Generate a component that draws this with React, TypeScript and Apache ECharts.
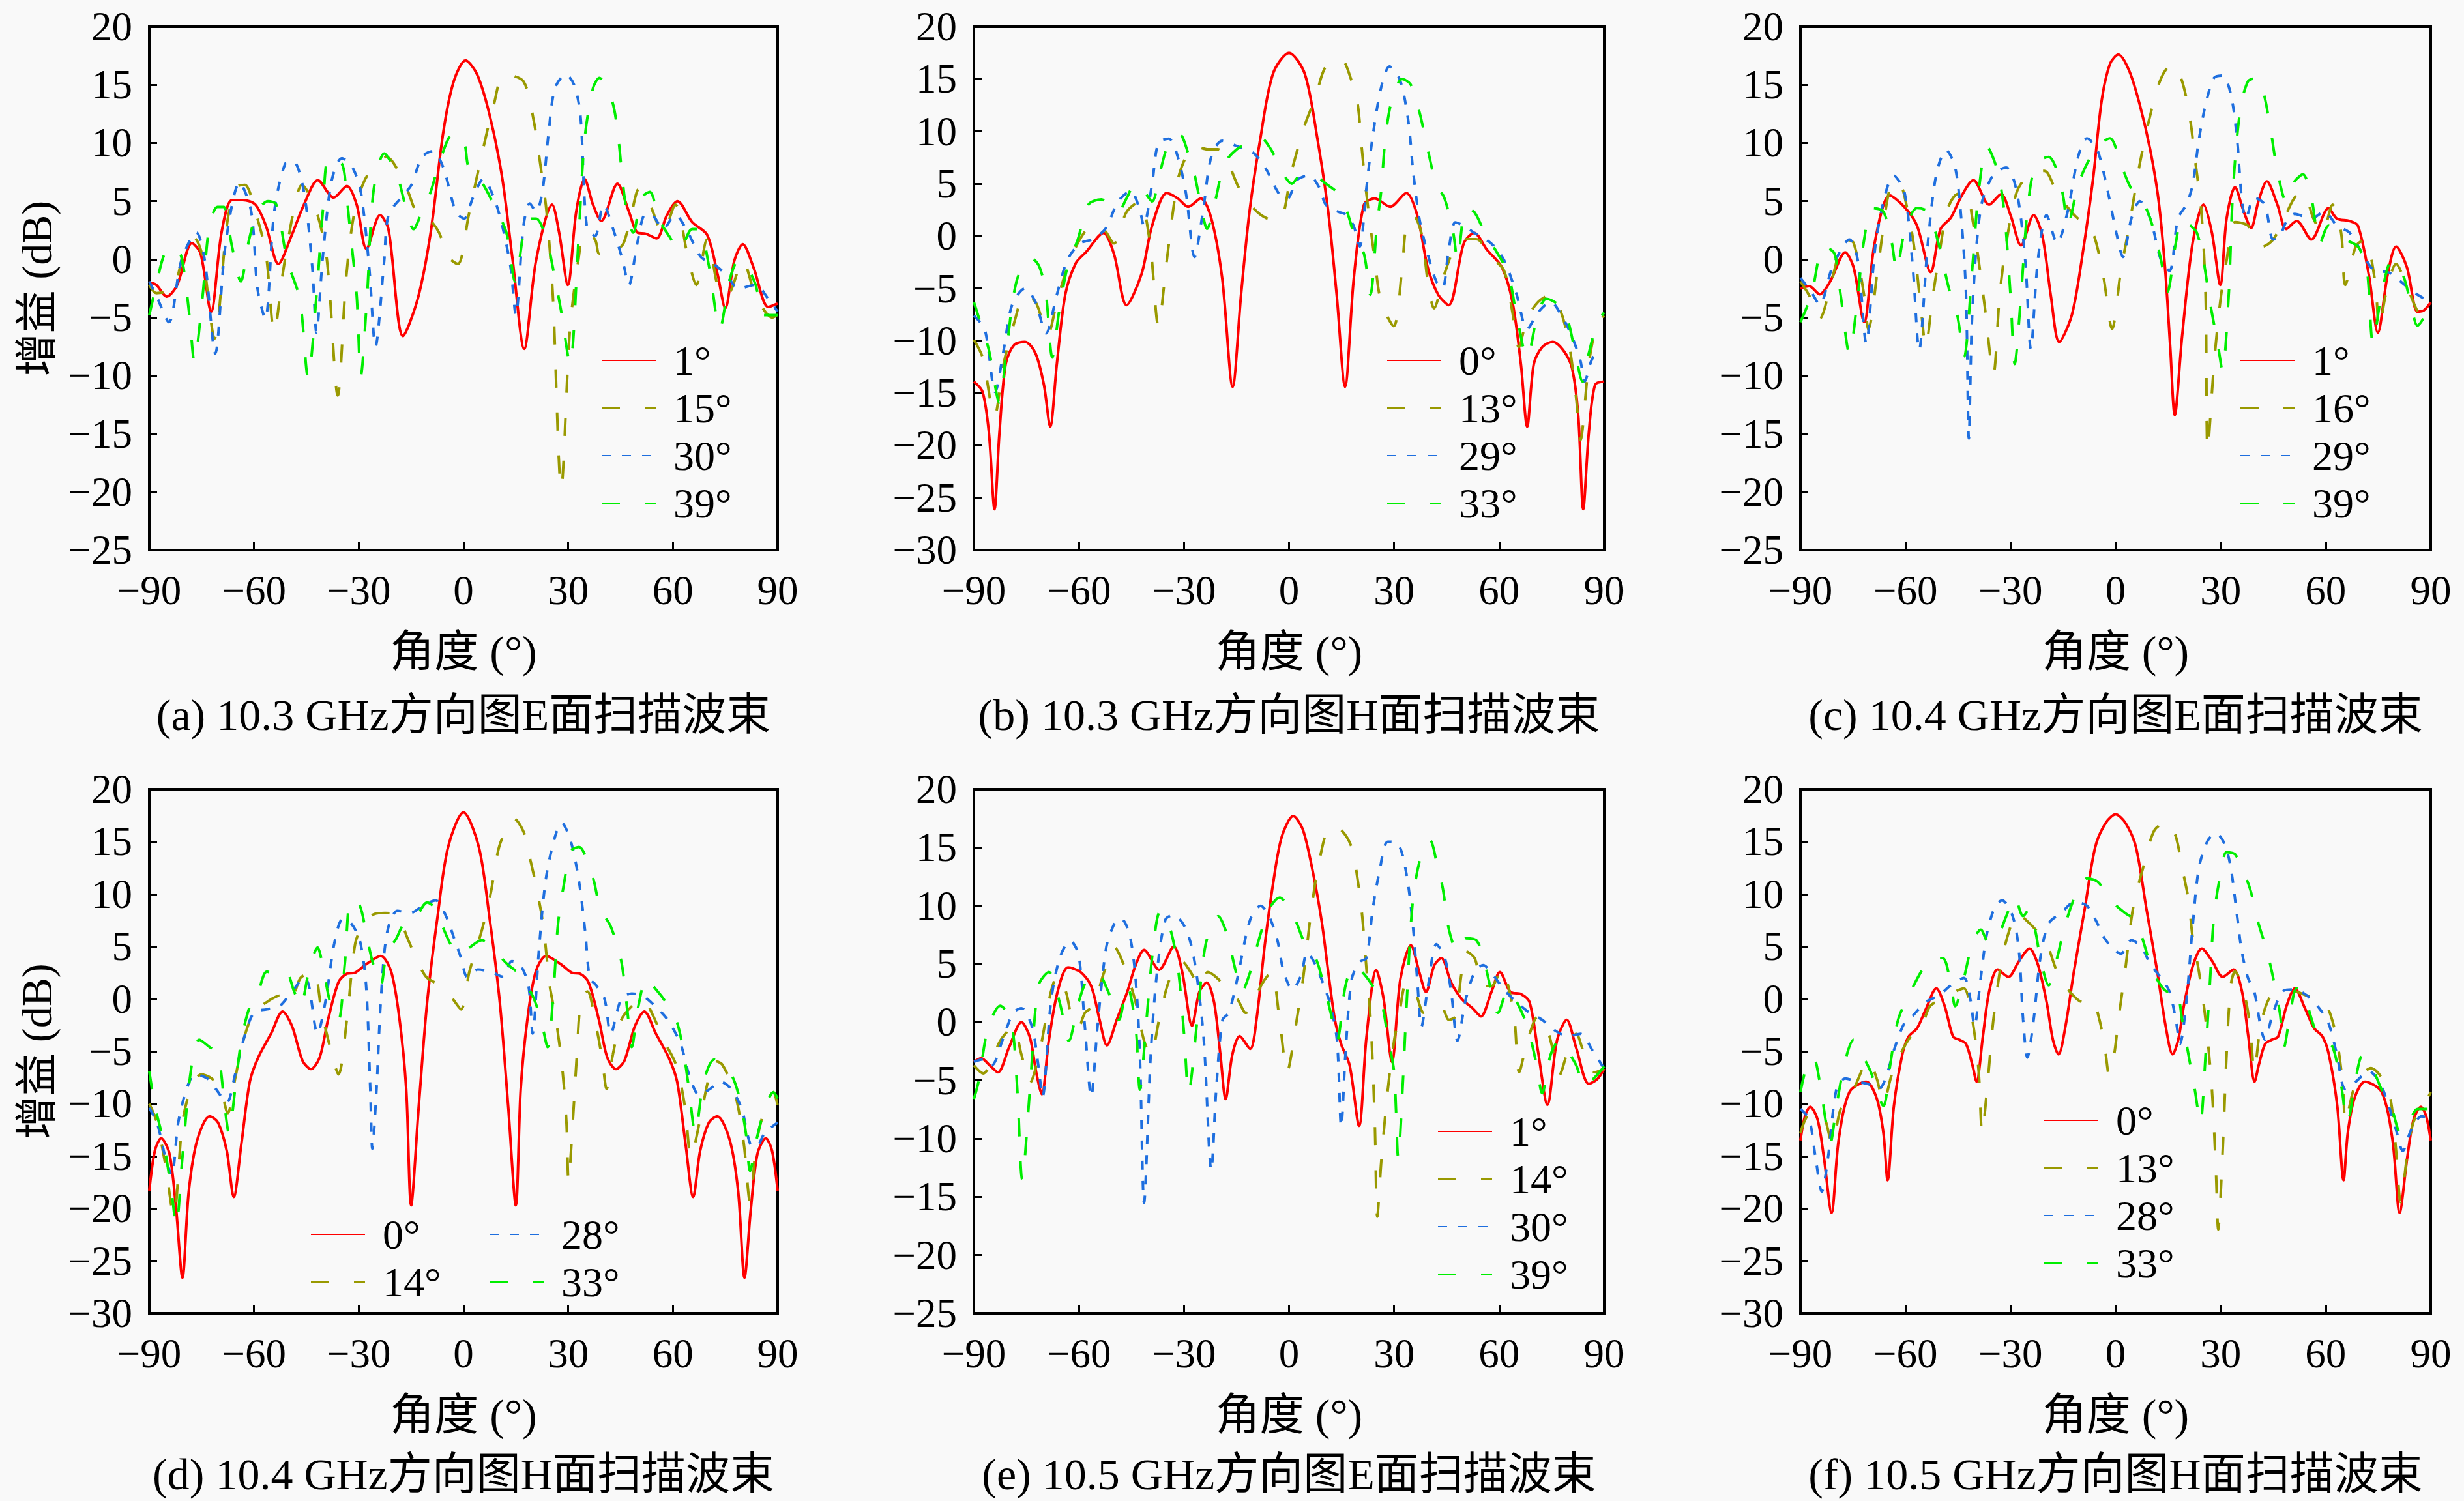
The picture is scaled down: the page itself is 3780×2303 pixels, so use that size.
import { useEffect, useRef } from "react";
import * as echarts from "echarts";

type Pt = [number, number];

// ---- (a) 10.3 GHz E-plane ----
const aNames = ["1°", "15°", "30°", "39°"];
const aRed: Pt[] = [[-90,-2.0],[-88,-2.2],[-85,-3.2],[-82,-2.2],[-77.8,1.4],[-75.3,0.5],[-72.3,-4.5],[-69.3,2.3],[-66.3,5.1],[-63.2,5.1],[-59.6,4.7],[-56.6,2.9],[-53,-0.4],[-49.3,2.0],[-45.7,4.7],[-41.7,6.8],[-37.2,5.3],[-33.4,6.3],[-30.6,4.7],[-27.8,0.9],[-23.9,3.8],[-21.5,2.6],[-17.3,-6.6],[-13.1,-3.4],[-9.4,2.3],[-5.8,10.9],[-2.8,15.3],[0.6,17.1],[3.9,15.9],[7.5,12.4],[11.1,7.0],[14.1,-0.1],[17.4,-7.7],[20.8,-0.1],[25.4,4.7],[27.4,2.3],[29.9,-2.2],[32.3,4.1],[34.7,6.9],[37.1,4.7],[39.5,3.3],[44.1,6.5],[47.4,4.1],[49.8,2.3],[52.2,2.2],[55.3,1.8],[58.3,3.8],[61.3,5.0],[65.5,3.2],[69.8,2.1],[72.8,-1.3],[75,-4.2],[77.6,-0.1],[80,1.3],[83.1,-0.7],[87.3,-4.1],[90,-3.8]];
const aOlive: Pt[] = [[-90,-2.2],[-88,-2.9],[-83.2,-2.5],[-79.6,1.1],[-77.1,1.8],[-74.7,0.2],[-71.3,-6.8],[-67.5,3.5],[-64.5,6.3],[-62.6,6.4],[-59.6,4.1],[-56.6,0.5],[-54.2,-6.3],[-51.8,-1.3],[-48.7,4.1],[-46.3,6.4],[-42.1,4.1],[-39.1,-0.1],[-36,-11.7],[-33.6,-1.6],[-31.2,4.1],[-27.6,7.2],[-22.1,8.8],[-16.7,6.4],[-13.1,3.8],[-10,3.5],[-7,2.3],[-4.4,0.2],[-1.6,-0.4],[1.5,3.8],[5.1,8.8],[8.7,13.3],[11.7,15.9],[17.2,15.3],[20.2,11.8],[22,8.2],[23.8,4.1],[25.6,-3.1],[28,-19.7],[30.5,-6],[32.9,-0.1],[34.7,2.3],[37.7,1.7],[38.9,0.5],[42.6,1.4],[45,1.1],[47.4,2.9],[50.4,6.1],[53.4,4.7],[57.1,2.3],[60.7,4.7],[64.3,0.2],[66.7,-2.2],[69.8,1.7],[74,-3.1],[76.4,-2.8],[80,-0.1],[83.7,-3.1],[88.5,-5],[90,-4.8]];
const aBlue: Pt[] = [[-90,-1.9],[-88,-3.1],[-84.4,-5.4],[-80.8,-0.1],[-76.5,2.3],[-74.1,-0.1],[-71.1,-8.1],[-68.1,1.4],[-64.1,6.6],[-60.8,4.1],[-59,-2.5],[-56.8,-5.1],[-54.2,4.1],[-51.1,8.2],[-48.7,8.4],[-45.7,5.8],[-43.3,-0.7],[-42.1,-6.3],[-40.3,0.2],[-37.8,6.7],[-34.8,8.7],[-31.8,7.9],[-29.4,5.8],[-27,-0.7],[-25.2,-7.5],[-22.7,-0.1],[-21.5,3.8],[-17.9,5.3],[-14.9,6.4],[-11.9,8.8],[-8.8,9.3],[-5.8,7.9],[-2.2,4.1],[0.2,3.5],[2.7,5.3],[5.7,6.9],[8.7,5.3],[11.1,2.9],[13.5,-0.7],[15,-4.8],[17.2,2.9],[19,4.8],[20.8,4.1],[22.6,5.8],[24.4,10.9],[26.2,14.7],[29.3,15.9],[31.7,15],[33.5,12.4],[35.3,2.9],[37.7,2],[40.1,4.7],[43.2,2.3],[45.6,-0.1],[47.4,-2.2],[49.8,1.4],[52.2,3.9],[54.7,3.6],[57.1,2.6],[60.7,3.8],[64.3,2.3],[68,0.2],[71.6,-0.4],[75.2,-1.3],[78.8,-2.5],[83.7,-2.2],[87.3,-3.4],[90,-4.5]];
const aGreen: Pt[] = [[-90,-4.8],[-88,-2.2],[-85.6,0.5],[-83.2,1.1],[-80.8,0.2],[-78.4,-5.1],[-77.1,-8.8],[-74.7,-3.1],[-72.9,2.6],[-70.5,4.5],[-68.7,4.5],[-66.3,1.1],[-63.8,-1.9],[-61.4,1.7],[-59,4.1],[-56,5],[-53.6,4.7],[-50.5,-0.1],[-46.9,-3.4],[-44.5,-10.2],[-42.1,-3.1],[-40.3,4.1],[-38.5,8.8],[-34.8,8.2],[-33.6,5.8],[-32.4,2.3],[-30.6,-3.1],[-29.4,-10],[-27.6,-3.1],[-25.8,5.8],[-22.7,9.1],[-19.1,7.3],[-16.7,4.7],[-14.3,2.6],[-11.9,4.1],[-9.4,5.8],[-6.4,8.8],[-2.8,10.9],[0.2,10],[1.5,7.9],[5.1,6.7],[8.7,4.7],[12.3,2.3],[14.8,-1.9],[17.2,2.3],[18.4,3.5],[20.8,3.5],[23.8,1.7],[25.6,-0.7],[28,-4.5],[30.5,-9],[32.9,1.4],[34.7,10.3],[37.1,14.7],[38.9,15.6],[42.6,13.6],[44.4,10.3],[45.6,6.7],[46.8,4.1],[48.6,2.3],[51,5.3],[53.4,5.8],[55.9,3.5],[58.9,2],[61.9,0.8],[65.5,2.6],[67.4,2.6],[70.4,-0.7],[73.4,-6],[76.4,-1.6],[78.8,-0.1],[81.3,-0.7],[83.7,-2.2],[86.1,-4.8],[90,-4.8]];

// ---- (b) 10.3 GHz H-plane ----
const bNames = ["0°", "13°", "29°", "33°"];
const bRed: Pt[] = [[-90,-13.9],[-87.5,-14.9],[-85.7,-18.8],[-84.1,-26.1],[-82.7,-18.8],[-80.9,-12.2],[-78.5,-10.4],[-75.4,-10.1],[-72.4,-11.2],[-70,-14.2],[-68.2,-18.2],[-66.3,-12.2],[-63.9,-5.6],[-60.9,-2.6],[-57.9,-1.5],[-53,0.3],[-50,-1.7],[-46.4,-6.6],[-42.1,-3.6],[-39.1,1],[-34.9,4.1],[-31.8,3.6],[-28.8,2.8],[-25.2,3.6],[-22.2,1.7],[-19.1,-4],[-16.1,-14.4],[-13.7,-5.6],[-11.3,2.3],[-8.2,9.3],[-4.6,15.5],[0,17.5],[4.5,15.5],[8.1,9.3],[11.2,2.3],[13.6,-5.6],[16,-14.4],[18.5,-4],[21.4,3],[24.5,3.6],[28.9,2.8],[33.5,4.1],[36.6,2],[39.6,-3],[42.6,-5.6],[45.6,-6.6],[49.9,-0.7],[52.9,0.3],[56.5,-1.3],[60.8,-3],[63.8,-6.3],[66.2,-12.2],[68,-18.2],[69.9,-12.2],[72.3,-10.6],[75.3,-10.1],[78.3,-10.9],[80.8,-12.6],[82.6,-17.2],[84,-26.1],[85.6,-18.8],[87.4,-14.2],[90,-13.9]];
const bOlive: Pt[] = [[-90,-9.9],[-87.5,-11.6],[-84.1,-17.2],[-81.5,-12.2],[-78.5,-8.3],[-75.4,-5.6],[-72.4,-6.3],[-70.6,-7.9],[-68.8,-9.3],[-66.3,-6.3],[-63.3,-3],[-59.7,-0.3],[-56.1,1],[-53,0.7],[-50,-0.7],[-46.4,2.3],[-42.7,3.3],[-39.7,-0.7],[-37.3,-8.6],[-34.9,-2.3],[-31.8,5.3],[-29.4,7.6],[-27,8.6],[-23.4,8.3],[-20.3,8.3],[-17.3,6.9],[-14.3,4.6],[-10,2.6],[-6.4,1.7],[-2.8,1.5],[0.8,6.3],[4.5,10.6],[7.5,13.2],[10.5,16.2],[14.8,16.9],[17.8,14.9],[19.6,12.6],[20.8,8.3],[22,4.3],[24.5,-2.3],[26.3,-6.3],[29.9,-8.6],[32.3,-3],[33.5,1],[35.4,2],[37.8,0.3],[39.6,-4.3],[41.4,-6.9],[44.4,-3.6],[47.5,-1],[50.5,-0.3],[53.5,-0.3],[57.7,-2],[61.4,-3.3],[63.8,-7.3],[65.6,-10.6],[68,-7.9],[71.1,-6.3],[74.7,-5.6],[77.7,-7.3],[80.1,-10.6],[82,-15.5],[83.2,-19.5],[85.6,-12.2],[88,-8.3],[90,-7.6]];
const bBlue: Pt[] = [[-90,-7.6],[-86.9,-8.9],[-83.9,-14.9],[-81.5,-10.9],[-79.1,-6.6],[-75.4,-5],[-72.4,-6.3],[-69.4,-9.3],[-66.3,-5.6],[-63.3,-2.3],[-59.7,-0.7],[-56.1,-0.3],[-52.4,0.7],[-48.8,3.3],[-45.2,4.3],[-42.7,2.6],[-41.5,1],[-39.1,5],[-37.3,8.9],[-34.3,9.3],[-31.8,7.6],[-29.4,4],[-27,-2],[-24.6,2.3],[-22.2,7.6],[-19.1,9.1],[-14.9,8.6],[-10,7.9],[-6.4,6.3],[-2.8,4],[-0.4,3.6],[2.1,5.3],[5.7,5.8],[8.7,4.6],[10.5,3],[14.2,2.3],[16,2.1],[18.4,1],[20.2,-1],[22,4.3],[23.8,9.3],[26.3,14.2],[28.7,16.2],[31.7,14.9],[34.1,10.9],[35.4,6.3],[37.2,1.7],[39.6,-1.7],[42,-4.3],[43.8,-5],[45.6,-1.3],[47.5,1.3],[49.9,1],[52.9,0.3],[57.7,-0.7],[61.4,-2.3],[65,-5.6],[68,-8.9],[71.1,-7.3],[74.7,-6.3],[78.3,-7.9],[80.8,-9.6],[83.2,-11.9],[84.4,-13.9],[86.8,-11.6],[90,-11.2]];
const bGreen: Pt[] = [[-90,-6.3],[-88.1,-8.3],[-85.7,-10.9],[-82.7,-15.9],[-80.9,-11.6],[-77.8,-4.3],[-73.6,-2.1],[-71.2,-3],[-69.4,-5.6],[-67.6,-11.6],[-65.7,-7.3],[-63.3,-3],[-60.3,-0.3],[-57.3,3],[-53.6,3.5],[-51.2,3],[-48.8,2.3],[-46.4,3.6],[-43.9,5],[-41.5,4.3],[-39.1,3.3],[-36.7,6.3],[-34.3,8.9],[-31.2,9.7],[-28.8,7.9],[-27,5.9],[-25.2,3],[-23.4,0.7],[-20.9,3.6],[-18.5,6.9],[-14.9,8.3],[-11.3,8.9],[-8.2,9.4],[-5.2,8.3],[-2.2,6.3],[0.8,5],[3.3,5.8],[6.9,5.8],[10.5,5],[14.2,4],[16.6,2.3],[19,-0.3],[21.4,-1.7],[23.2,-5.6],[25.1,1],[26.3,4.3],[27.5,9.3],[29.3,12.9],[32.3,15],[34.7,14.5],[37.2,11.9],[39.6,8.3],[42,5],[44.4,3.6],[46.9,0.3],[48.1,-2.3],[50.5,2.6],[52.9,2.3],[55.9,0.3],[59.6,-1.7],[62.6,-3.6],[65,-7.6],[68,-11.6],[71.1,-7.3],[73.5,-6],[77.1,-6.6],[79.5,-7.9],[82,-11.6],[83.8,-13.9],[85.6,-11.2],[88,-8.3],[90,-7.3]];

// ---- (c) 10.4 GHz E-plane ----
const cNames = ["1°", "16°", "29°", "39°"];
const cRed: Pt[] = [[-90,-2.5],[-87.5,-2.3],[-84.5,-3],[-81.5,-1.9],[-77.2,0.6],[-74.8,-0.7],[-71.8,-5.4],[-68.8,1.4],[-64.5,5.5],[-60.3,4.5],[-56.7,2.9],[-52.8,-1.1],[-50,2.6],[-47,3.6],[-43.9,5.5],[-40.6,6.8],[-36.1,4.7],[-32.7,5.6],[-30,3.8],[-27,1.2],[-23.4,3.8],[-20.9,2],[-18.5,-3.1],[-16.1,-7.1],[-12.5,-4.8],[-9.4,0.5],[-6.4,7],[-4,13.6],[-1.6,16.8],[0.8,17.6],[3.9,16.2],[6.9,13.3],[9.9,9.4],[12.3,5],[14.2,-1],[15.6,-7.5],[16.9,-13.4],[19,-6.6],[22,1.4],[25.1,4.7],[27.5,2.3],[29.9,-2.2],[31.7,3.5],[34.1,6.2],[36.6,4.1],[38.7,2.7],[40.8,5],[43.2,6.7],[46.2,4.7],[48.7,2.6],[51.7,3.3],[55.9,1.7],[60.8,4.4],[63.2,3.5],[66.8,3.3],[69.2,2.9],[72.3,-1.3],[74.9,-6.3],[77.7,-1.3],[80.1,1.1],[83.2,-0.7],[86.2,-4.5],[88,-4.4],[90,-3.7]];
const cOlive: Pt[] = [[-90,-1.9],[-87.5,-3.1],[-84.5,-5.1],[-80.9,-1.6],[-77.2,1.7],[-74.8,1.4],[-71.8,-3.1],[-70.6,-6],[-67.6,-0.1],[-64.5,6.1],[-62.1,6.7],[-59.1,3.8],[-57.3,0.5],[-55.4,-4.8],[-54.2,-7.5],[-52.4,-3.6],[-50.6,-0.1],[-48.2,4.1],[-45.8,5.5],[-42.7,5.8],[-40.9,3.5],[-39.1,-0.1],[-37.3,-4.2],[-34.9,-9.9],[-33.1,-3.1],[-31.2,1.4],[-28.2,5.8],[-24.6,7.3],[-20.3,7.6],[-17.3,6.1],[-14.3,4.7],[-10.7,3.5],[-8.2,3.2],[-5.8,1.7],[-3.4,-1.6],[-1,-6],[1.5,-1],[3.9,2.9],[6.9,8.2],[9.9,12.4],[12.9,15.5],[16,16.8],[19,15.3],[21.4,11.8],[22.6,8.8],[24.5,4.1],[25.7,-3.1],[26.3,-16.4],[28.1,-9],[29.9,-3.6],[31.7,-0.1],[34.1,3.2],[37.8,2.9],[39.6,1.7],[42,1.1],[45,1.7],[48.1,3.5],[51.1,5.3],[53.5,5.8],[56.5,3.5],[59,2.3],[62,4.7],[64.4,2.3],[65.6,-2.2],[68.6,1.1],[71.1,1.7],[74.1,-1.9],[75.3,-6],[77.1,-3.1],[80.1,-0.4],[83.8,-2.8],[87.4,-4.8],[90,-4.2]];
const cBlue: Pt[] = [[-90,-1.6],[-86.9,-2.8],[-84.5,-3.9],[-80.9,-0.7],[-76,1.7],[-73.6,-0.1],[-71.2,-7.2],[-68.2,2],[-63.3,7.2],[-60.3,5.8],[-57.9,-0.7],[-56.1,-7.8],[-53.6,1.4],[-51.2,7.3],[-48.4,9.4],[-45.8,7.9],[-43.9,2.9],[-42.7,-3.1],[-41.9,-15.4],[-40.9,-4.5],[-38.5,4.4],[-34.9,7.3],[-31.2,7.9],[-28.2,5.8],[-25.8,-0.1],[-24.2,-7.7],[-22.2,-0.1],[-19.7,3.8],[-16.7,1.4],[-13.7,4.1],[-10.7,8.8],[-8.2,10.4],[-5.2,9.4],[-2.2,5.8],[0.2,2.3],[2.1,0.2],[4.5,3.5],[6.9,5],[9.9,3.5],[13,-0.1],[15.4,-1],[17.8,3.5],[20.2,4.7],[22,6.4],[23.8,10.3],[25.7,13.3],[28.1,15.6],[30.5,15.8],[32.9,14.2],[34.7,10.3],[36,5.3],[37.2,3.5],[39.6,5.3],[42.6,4.7],[45,1.7],[46.9,2],[48.7,3.2],[51.1,3.9],[55.9,3.5],[59.6,4.1],[63.2,2.9],[66.8,2.3],[70.5,0.5],[74.1,-1],[77.7,-1.1],[81.4,-1.9],[85,-2.8],[90,-3.7]];
const cGreen: Pt[] = [[-90,-5.4],[-86.9,-3.1],[-83.3,1.1],[-80.3,0.5],[-78.5,-3.1],[-76,-8.1],[-73.6,-3.1],[-71.8,1.7],[-69.4,4.4],[-66.3,4.1],[-63.9,1.4],[-62.5,-1],[-60.3,2.3],[-56.7,4.4],[-53.6,4.1],[-50.6,1.4],[-47.6,-2.5],[-45.2,-4.8],[-43.3,-8.4],[-40.9,-0.7],[-39.1,5.8],[-36.7,9.7],[-33.7,7.6],[-31.8,4.1],[-30,-3.1],[-28.8,-9],[-27,-3.1],[-25.2,4.1],[-22.8,8.2],[-19.1,8.8],[-16.7,7.6],[-14.9,5.3],[-13.7,2.9],[-10.7,6.4],[-8.2,8.2],[-5.2,9.7],[-1.6,10.4],[1.5,8.2],[3.9,6.4],[6.3,5.3],[8.7,4.4],[11.1,2.3],[13,-0.1],[14.8,-2.8],[17.2,1.4],[19,3.5],[21.4,2.9],[23.2,2.3],[25.1,-0.1],[26.9,-3.6],[29.3,-7.5],[30.5,-9.6],[32.3,-3.1],[33.5,5.8],[35.4,12.4],[37.8,15.3],[40.8,15.6],[42.6,13.9],[44.4,10.9],[46.2,7.6],[48.7,5],[51.1,6.7],[53.5,7.3],[55.9,5.3],[58.4,1.4],[60.8,2.9],[63.2,2.3],[65.6,1.7],[69.2,1.1],[71.7,-0.7],[73.5,-7.2],[75.9,-3.1],[78.9,-0.1],[82,-1.3],[84.4,-3.9],[86.2,-5.7],[90,-3.9]];

// ---- (d) 10.4 GHz H-plane ----
const dNames = ["0°", "14°", "28°", "33°"];
const dRed: Pt[] = [[-90,-18.3],[-88.4,-14.5],[-86.6,-13.3],[-84.2,-14.8],[-82.3,-20.1],[-80.5,-26.6],[-78.7,-18.4],[-76.3,-13.5],[-72.7,-11.2],[-70.3,-11.8],[-67.8,-14.5],[-65.8,-18.9],[-63.6,-13.8],[-61.2,-7.9],[-58.8,-5.6],[-55.1,-3.3],[-51.8,-1.2],[-49.1,-2.6],[-46.1,-5.9],[-43.7,-6.7],[-41.2,-5.6],[-38.8,-2],[-35.8,1.6],[-33.4,2.4],[-31,2.5],[-27.9,3.3],[-23.7,4.1],[-20.7,2.6],[-18.3,-2],[-16.4,-8.6],[-15,-19.7],[-12.8,-10.2],[-10.4,-0.3],[-7.4,7.9],[-4.4,14.5],[0,17.8],[4.4,14.5],[7.4,7.9],[10.4,-0.3],[12.8,-10.2],[15,-19.7],[16.4,-8.6],[18.3,-2],[20.7,2.6],[23.7,4.1],[27.9,3.3],[31,2.5],[33.4,2.4],[35.8,1.6],[38.8,-2],[41.2,-5.6],[43.7,-6.7],[46.1,-5.9],[49.1,-2.6],[51.8,-1.2],[55.1,-3.3],[58.8,-5.6],[61.2,-7.9],[63.6,-13.8],[65.8,-18.9],[67.8,-14.5],[70.3,-11.8],[72.7,-11.2],[76.3,-13.5],[78.7,-18.4],[80.5,-26.6],[82.3,-20.1],[84.2,-14.8],[86.6,-13.3],[88.4,-14.5],[90,-18.3]];
const dOlive: Pt[] = [[-90,-10],[-87.8,-11.8],[-85.4,-15.8],[-83,-20.7],[-80.5,-11.8],[-78.1,-8.6],[-75.1,-7.2],[-72.1,-7.6],[-69.6,-8.6],[-67.5,-10.9],[-65.4,-7.6],[-63,-3.9],[-60,-1.3],[-56.3,-0.3],[-52.7,0.3],[-49.7,-0.3],[-46.7,2],[-43,2.6],[-40.6,-1.3],[-38.2,-4.6],[-35.8,-7.2],[-33.4,-2],[-31,5.3],[-28.5,7.2],[-25.5,8.1],[-22.5,8.2],[-18.9,7.9],[-15.8,5.6],[-12.8,3.3],[-10.4,2],[-6.8,1.3],[-3.1,0],[-0.7,-1],[1.7,2.6],[5.3,6.6],[7.7,9.9],[10.2,14.5],[13.2,16.8],[14.4,17.2],[17.4,15.8],[19.2,13.2],[21,10.5],[22.9,6.9],[24.7,1.3],[26.5,-2],[28.3,-6.6],[29.5,-11.8],[30.1,-17.4],[31.3,-11.8],[32.5,-5.3],[33.7,0],[35.5,0.7],[38,-2.6],[39.8,-5.9],[41,-8.6],[42.8,-5.3],[45.2,-2],[48.2,-0.7],[51.3,0],[54.3,-1.6],[57.3,-3.9],[60.9,-6.3],[63.4,-10.2],[65.2,-15.1],[67.6,-11.8],[70,-7.9],[71.8,-5.9],[74.2,-6.3],[77.9,-9.2],[80.3,-13.8],[82.1,-19.4],[83.9,-13.8],[86.3,-10.5],[88.8,-8.9],[90,-10.2]];
const dBlue: Pt[] = [[-90,-10.4],[-87.8,-11.8],[-85.4,-15.1],[-83.6,-16.8],[-81.7,-11.8],[-79.3,-8.6],[-76.9,-7.2],[-73.3,-7.6],[-70.9,-8.6],[-67.8,-9.9],[-65.4,-7.2],[-63,-3.9],[-60,-1.3],[-56.3,-1],[-52.7,-0.7],[-49.1,0.7],[-45.5,2],[-44.3,1.3],[-41.8,-3.3],[-39.4,0],[-37,5.3],[-34.6,7.6],[-32.2,7.2],[-29.7,5.6],[-27.9,1.3],[-26.7,-8.6],[-26.1,-14.3],[-24.9,-8.6],[-23.7,-0.3],[-21.9,6.3],[-18.9,8.4],[-15.2,8.2],[-11.6,8.9],[-8,9.4],[-5,7.9],[-2.5,5.6],[-0.7,3.9],[1.1,2.1],[4.1,2.8],[7.7,2.6],[11.4,2.1],[13.8,3.6],[16.2,3.3],[18.6,1.3],[19.8,-3.3],[21.6,4.6],[23.5,11.2],[25.9,15.1],[28.1,16.8],[30.7,15.1],[33.1,11.2],[34.9,6.3],[36.2,2],[38,1.3],[40.4,0],[42.2,-3.3],[45.2,0],[48.2,0.5],[51.3,0.3],[54.9,-0.7],[58.5,-2],[62.2,-4.3],[64.6,-7.2],[67.6,-9.2],[70.6,-8.6],[73.6,-7.9],[76.7,-8.6],[79.7,-10.5],[82.1,-13.8],[83.9,-14.1],[86.3,-12.8],[90,-11.8]];
const dGreen: Pt[] = [[-90,-6.9],[-88.4,-10.2],[-86,-13.5],[-83.6,-18.4],[-82.3,-21.7],[-80.5,-15.1],[-78.1,-6.9],[-75.7,-3.9],[-72.7,-4.6],[-70.3,-5.3],[-68.4,-10.2],[-67.2,-12.8],[-65.4,-8.6],[-63.6,-3.9],[-61.2,-0.7],[-58.8,0.7],[-56.3,2.6],[-53.3,2.3],[-50.9,2.6],[-48.5,0.7],[-46.7,-0.7],[-44.3,2.6],[-41.8,4.9],[-40,2.6],[-38.2,-0.3],[-35.8,-2],[-34,3.3],[-32.2,9.5],[-29.7,8.9],[-27.9,6.3],[-26.1,3.6],[-23.7,1.3],[-21.9,4.6],[-19.5,5.6],[-17,7.2],[-14,7.6],[-10.4,9.2],[-8,8.6],[-5.6,6.6],[-3.1,4.9],[-0.7,4.3],[1.7,4.9],[5.3,5.6],[8.9,4.6],[12.6,3.3],[16.2,2.3],[19.8,0.3],[22.2,-2],[24.1,-4.6],[25.9,1.3],[27.1,7.2],[28.9,11.2],[30.7,14.1],[33.1,14.5],[35.5,13.2],[37.4,11.2],[39.2,8.6],[42.2,6.9],[45.2,3.6],[47,-1.3],[48.2,-4.6],[50.1,-0.7],[52.5,2],[54.9,1],[57.3,0],[60.9,-2],[62.8,-4.6],[64.6,-8.6],[66.4,-12.8],[68.8,-7.9],[71.8,-5.8],[74.2,-6.6],[76.7,-7.2],[79.1,-9.5],[80.9,-12.8],[82.1,-16.4],[83.9,-13.5],[86.3,-10.5],[88.8,-8.9],[90,-9.5]];

// ---- (e) 10.5 GHz E-plane ----
const eNames = ["1°", "14°", "30°", "39°"];
const eRed: Pt[] = [[-90,-3.4],[-87.9,-3.1],[-85.5,-3.7],[-83.1,-4.3],[-80,-2.2],[-76.4,0],[-74,-1.3],[-72.2,-4.3],[-70.6,-6.2],[-68.6,-1.6],[-66.1,2.6],[-63.1,4.7],[-59.5,4.3],[-56.5,3.1],[-54.1,0.2],[-52,-2],[-49.2,0.2],[-46.2,2.6],[-43.8,4.9],[-41.4,6.2],[-37.1,4.5],[-32.9,6.5],[-30.5,4.3],[-27.7,-0.3],[-25.6,2.6],[-23.5,3.4],[-21.4,1.7],[-19.6,-2.8],[-18.1,-6.6],[-16.2,-2.8],[-14.1,-1.2],[-11.1,-2.3],[-9.3,0.2],[-6.9,6.7],[-4.5,12],[-2.1,15.9],[1.2,17.7],[4,16.5],[7,12.6],[9.4,8.5],[11.2,4.3],[13.1,0.2],[14.9,-1.9],[17.3,-3.7],[20,-8.9],[22.1,-1.3],[24.9,4.5],[27,2],[29.4,-3.4],[31.8,3.7],[34.8,6.6],[37.2,4.3],[39.1,2.6],[41.5,4.9],[43.5,5.5],[46.3,3.4],[49.3,2],[52.4,1.2],[54.8,0.5],[57.8,2.6],[60.2,4.3],[63.2,2.6],[66.3,2.4],[68.7,1.7],[71.1,-2.5],[73.8,-7.1],[76.5,-1.6],[79.3,0.2],[82,-2.2],[85.6,-5.3],[88,-4.9],[90,-4]];
const eOlive: Pt[] = [[-90,-3.7],[-87.3,-4.4],[-84.9,-3.4],[-82.5,-1.6],[-78.8,-0.4],[-76.4,-2.8],[-74,-5.2],[-71,-2.2],[-68,2.6],[-66.1,4],[-63.7,2.6],[-61.9,0.2],[-60.1,-0.4],[-58.3,0.8],[-55.9,1.4],[-52.8,4.3],[-49.8,6.4],[-46.8,4.6],[-43.8,1.7],[-41.4,-1.6],[-39.5,-2.8],[-37.1,0.2],[-34.1,3.7],[-30.5,5.2],[-28.1,4.3],[-25.6,3.1],[-23.2,4.3],[-20.2,3.7],[-17.2,2.6],[-14.8,2],[-12.3,0.8],[-9.9,1.7],[-8.1,3.1],[-5.1,4.3],[-2.7,0.2],[-0.5,-4.3],[1,-2.2],[2.2,0.2],[4,3.7],[6.4,9.7],[8.8,14.1],[11.9,16.8],[14.9,16.5],[17.9,15],[19.7,12],[20.9,9.1],[22.1,4.6],[23.3,0.2],[24.5,-8.7],[25.2,-16.7],[26.4,-11.7],[28.2,-5.8],[30,-1.6],[31.2,0.2],[33.6,3.4],[36,2.6],[38.5,0.8],[40.9,1.4],[43.3,1.4],[45.7,0.2],[47.5,0.5],[49.3,4.3],[50.5,6.1],[53,5.5],[55.4,3.1],[57.8,3.1],[60.8,4.6],[62.6,3.1],[64.4,0.2],[65.7,-4.3],[68.1,-1.6],[71.1,0.5],[73.5,-0.4],[75.9,-3.1],[77.1,-4.6],[79.6,-2.5],[82,-1],[84.4,-2.8],[87.4,-4.3],[90,-4]];
const eBlue: Pt[] = [[-90,-3.4],[-87.3,-3.2],[-84.9,-3.7],[-81.9,-1.6],[-78.8,0.8],[-76.4,1.2],[-73.4,-0.4],[-71.6,-3.7],[-70.4,-6.4],[-68,1.7],[-65.5,5.5],[-62.5,7],[-60.1,5.8],[-58.3,-0.4],[-56.5,-6.4],[-54.7,-0.4],[-52.2,6.4],[-49.8,8.5],[-48,8.9],[-45.6,7.6],[-43.8,3.7],[-42.6,-2.8],[-41.4,-15.5],[-39.5,-2.8],[-37.7,4.3],[-35.3,8.8],[-32.9,9.2],[-29.3,7.9],[-26.8,4.9],[-24.4,-1.3],[-22.2,-12.7],[-20.8,-5.8],[-19,0.2],[-17.2,0.8],[-14.8,3.7],[-11.1,8.8],[-8.1,10],[-5.7,9.1],[-3.3,7],[-1.5,4.3],[1,2.8],[3.4,4],[5.2,6],[7.6,4.9],[10,3.1],[11.9,1.4],[13.7,-1.6],[14.9,-9],[16.1,-2.8],[17.9,3.7],[20.3,5.2],[22.1,5.5],[23.9,9.7],[25.8,12.9],[28.2,15.5],[31.2,15.3],[33.6,12.6],[35.4,8.2],[36.6,3.7],[37.8,-0.4],[39.7,3.1],[42.1,6.7],[44.5,5.5],[46.3,2.6],[48.1,-1.6],[50.5,2],[53,4.3],[55.4,4.9],[58.4,4],[61.4,2.8],[65,1.7],[68.7,0.8],[72.3,0.2],[75.9,-0.7],[79.6,-1.2],[83.2,-1],[86.8,-2.5],[90,-4]];
const eGreen: Pt[] = [[-90,-6.6],[-88.5,-4.9],[-86.1,-0.7],[-82.5,1.4],[-79.4,0.2],[-77.6,-5.8],[-76.2,-13.5],[-74,-5.8],[-71.6,3.1],[-68.6,4.3],[-65.5,1.7],[-62.9,-1.6],[-60.1,1.7],[-57.7,3.6],[-54.7,4.2],[-51.6,2.6],[-48.6,0.2],[-46.2,3.1],[-43.8,-0.4],[-42.6,-5.8],[-40.7,0.2],[-38.9,6.1],[-36.8,9.5],[-34.1,8.2],[-31.7,4.6],[-29.9,-1.3],[-28.7,-6.1],[-26.2,0.2],[-23.8,6.7],[-20.2,9.1],[-17.8,7.6],[-15.4,4.6],[-13.5,2.6],[-11.1,4.3],[-8.7,7],[-5.7,9.7],[-2.7,10.7],[0.4,9.7],[2.2,8.5],[4.6,6.7],[7.6,5.5],[10,3.1],[11.9,0.8],[13.7,-1.6],[16.1,3.1],[18.5,4.8],[20.9,4.3],[23.9,3.1],[26.4,1.7],[28.2,-1.3],[30,-4.3],[31.2,-11.7],[32.4,-5.8],[33.6,1.7],[35.4,10.6],[37.8,14.4],[40.3,15.6],[42.1,13.8],[43.9,11.5],[45.7,7.9],[48.1,6.1],[50.5,7.2],[53.6,7],[56,4.9],[57.8,2.6],[59.6,0.8],[62.6,2.8],[65.1,1.7],[68.1,-0.4],[70.5,-3.4],[72.3,-6.1],[74.7,-2.8],[77.1,-1.6],[79.6,-2.5],[82,-3.7],[84.4,-5.5],[86.8,-4.9],[90,-3.8]];

// ---- (f) 10.5 GHz H-plane ----
const fNames = ["0°", "13°", "28°", "33°"];
const fRed: Pt[] = [[-90,-13.5],[-88.7,-11.2],[-87.2,-10.3],[-85.1,-11.5],[-83.3,-15.1],[-81.1,-20.4],[-79.1,-13.5],[-76,-8.9],[-71.2,-7.9],[-68.2,-9.5],[-66.3,-12.8],[-65.1,-17.3],[-63.3,-10.2],[-60.9,-5.3],[-59.1,-3.6],[-56.7,-2.8],[-54.2,-1],[-51.2,1],[-48.8,-0.7],[-46.4,-3.6],[-44.6,-3.9],[-42.7,-4.3],[-40.9,-6.3],[-39.7,-7.9],[-37.9,-3.6],[-36.1,0.7],[-33.7,2.8],[-30.6,2.1],[-27.6,3.6],[-24.6,4.8],[-22.2,3.3],[-19.7,-0.3],[-17.9,-3.9],[-16.3,-5.3],[-14.3,-2.6],[-11.9,2.6],[-8.8,8.6],[-5.8,14.5],[-2.8,16.8],[0,17.6],[2.8,16.8],[5.8,14.5],[8.8,8.6],[11.9,2.6],[14.3,-2.6],[16.3,-5.3],[17.9,-3.9],[19.7,-0.3],[22.2,3.3],[24.6,4.8],[27.6,3.6],[30.6,2.1],[33.7,2.8],[36.1,0.7],[37.9,-3.6],[39.7,-7.9],[40.9,-6.3],[42.7,-4.3],[44.6,-3.9],[46.4,-3.6],[48.8,-0.7],[51.2,1],[54.2,-1],[56.7,-2.8],[59.1,-3.6],[60.9,-5.3],[63.3,-10.2],[65.1,-17.3],[66.3,-12.8],[68.2,-9.5],[71.2,-7.9],[76,-8.9],[79.1,-13.5],[81.1,-20.4],[83.3,-15.1],[85.1,-11.5],[87.2,-10.3],[88.7,-11.2],[90,-13.5]];
const fOlive: Pt[] = [[-90,-12.8],[-88.1,-11.2],[-85.7,-10.7],[-83.3,-11.2],[-80.9,-13.8],[-78.5,-10.5],[-74.8,-8.6],[-70.6,-5.9],[-68.2,-7.6],[-66.3,-9.9],[-63.9,-7.2],[-60.9,-4.9],[-57.9,-3.3],[-55.4,-2.6],[-53,-0.7],[-49.4,0],[-45.8,0.7],[-43.3,1],[-40.9,-2],[-39.1,-6.9],[-38.1,-12.8],[-36.7,-8.6],[-34.9,-2],[-32.4,3.9],[-30,6.9],[-28.2,8.2],[-25.8,7.6],[-22.8,6.6],[-19.7,5.3],[-16.7,2.6],[-13.1,0.7],[-9.4,-0.3],[-7,0],[-4.6,-2],[-2.8,-5.3],[-1.9,-7.2],[-0.4,-5.3],[0.8,-2],[2.7,2.6],[5.1,8.9],[8.1,12.8],[11.1,16.1],[14.8,16.9],[17.2,15.5],[19,12.5],[20.8,9.5],[22,5.9],[23.8,2.6],[25.7,-2],[27.5,-8.6],[28.7,-16.8],[29.3,-22],[30.5,-15.1],[31.7,-5.3],[32.9,1.3],[34.1,2.6],[36.6,0.7],[38.4,-2.6],[39.6,-6.9],[41.4,-2.6],[43.8,0],[46.9,0.7],[51.1,0.7],[54.7,0.3],[58.4,0],[60.8,-1],[63.2,-3.9],[65,-8.6],[65.6,-11.8],[68,-8.6],[70.5,-7.2],[72.9,-6.6],[75.3,-7.2],[78.3,-9.2],[80.1,-14.5],[81.4,-19.4],[83.2,-15.1],[85,-11.8],[88,-10.2],[90,-8.9]];
const fBlue: Pt[] = [[-90,-10.5],[-87.5,-11.5],[-85.7,-15.1],[-83.9,-18.4],[-82.1,-15.1],[-79.7,-8.6],[-77.2,-7.6],[-73.6,-7.9],[-70,-8.2],[-67.6,-8.6],[-65.7,-7.6],[-63.3,-4.9],[-60.3,-2.3],[-57.9,-1.6],[-54.2,-0.3],[-50.6,0.3],[-47,1.3],[-43.3,2],[-41.5,0],[-40.3,-2.6],[-38.5,2],[-36.7,6.3],[-34.3,8.9],[-32.4,9.4],[-29.4,7.9],[-27.6,4.6],[-26.4,-2],[-25.2,-5.6],[-23.4,-2],[-21.5,3.9],[-19.1,7.2],[-15.5,8.2],[-11.9,9.2],[-8.2,8.9],[-5.2,7.2],[-3.4,5.9],[-1,4.9],[1.5,4.3],[4.5,5.6],[7.5,4.9],[9.9,3.3],[13,2],[15.4,0.7],[17.2,-2],[18.4,-4.3],[20.2,-0.3],[22,6.9],[23.8,12.5],[26.3,15.1],[28.7,15.8],[31.1,14.8],[32.9,12.5],[34.7,7.9],[36,4.6],[37.8,2],[39.6,0.7],[41.4,-2.6],[42.6,-3.9],[45,-1.3],[48.1,0.8],[51.1,0.9],[54.7,0.3],[58.4,-1],[60.8,-2.3],[63.2,-5.3],[65.6,-8.6],[68.6,-7.9],[72.3,-6.9],[75.3,-7.9],[77.7,-9.9],[80.1,-12.5],[82,-14.5],[84.4,-12.5],[87.4,-11.2],[90,-11.5]];
const fGreen: Pt[] = [[-90,-8.9],[-88.1,-6.3],[-86.3,-5.6],[-84.5,-7.9],[-82.7,-11.8],[-81.5,-13.8],[-79.7,-10.2],[-77.2,-5.9],[-74.8,-3.9],[-72.4,-5.3],[-70,-6.9],[-66.3,-10.2],[-64.5,-6.6],[-62.1,-2],[-58.5,0.7],[-54.8,3],[-52.4,3.9],[-49.4,3.9],[-47,1.3],[-45.8,-0.7],[-43.3,2],[-40.9,5.3],[-38.5,6.6],[-36.1,5.3],[-33.7,5.9],[-31.2,7.9],[-28.8,9.7],[-26.4,7.9],[-24.6,8.6],[-22.8,6.3],[-21.5,3.9],[-19.1,1.3],[-16.7,3.9],[-14.3,7.2],[-10.7,10.5],[-8.2,11.5],[-5.2,11.2],[-2.2,9.9],[0.2,8.9],[2.7,8.2],[5.1,7.6],[7.5,5.9],[9.9,3.3],[12.3,1.6],[14.8,0.7],[17.2,1],[19,-2],[20.8,-5.3],[22.6,-8.6],[24.2,-11.8],[25.7,-5.3],[26.9,1.3],[28.1,7.9],[29.9,11.8],[31.7,14],[34.1,13.8],[36,12.5],[38.4,10.5],[40.8,7.2],[43.2,4.6],[45,2],[46.9,-1.3],[48.1,-4.6],[49.9,-1.3],[51.7,1],[54.1,0],[57.1,-3],[59.6,-3.9],[62,-4.6],[64.4,-8.2],[66.2,-11.8],[68.6,-7.6],[70.5,-5.4],[72.9,-6.3],[75.9,-8.6],[78.9,-10.5],[81.4,-12.8],[83.8,-11.8],[86.2,-10.5],[90,-10.5]];

const captions = [
  "(a) 10.3 GHz方向图E面扫描波束",
  "(b) 10.3 GHz方向图H面扫描波束",
  "(c) 10.4 GHz方向图E面扫描波束",
  "(d) 10.4 GHz方向图H面扫描波束",
  "(e) 10.5 GHz方向图E面扫描波束",
  "(f) 10.5 GHz方向图H面扫描波束",
];
const yMins = [-25, -30, -25, -30, -25, -30];
const xTicks = [-90, 90, 30];

const panels = [
  { names: aNames, lines: [aRed, aOlive, aBlue, aGreen] },
  { names: bNames, lines: [bRed, bOlive, bBlue, bGreen] },
  { names: cNames, lines: [cRed, cOlive, cBlue, cGreen] },
  { names: dNames, lines: [dRed, dOlive, dBlue, dGreen] },
  { names: eNames, lines: [eRed, eOlive, eBlue, eGreen] },
  { names: fNames, lines: [fRed, fOlive, fBlue, fGreen] },
];

// layout (page pixels)
const colLeft = [229, 1494, 2762];
const colWidth = [964, 967, 967];
const rowTop = [41, 1211];
const rowHeight = [803, 804];
const FONT = "'Liberation Serif', 'DejaVu Serif', 'Noto Sans CJK SC', serif";
const COLORS = ["#ff0000", "#999900", "#1f6fdf", "#00ee00"];
const DASHES: (string | number[])[] = ["solid", [28, 38], [14, 17], [28, 38]];

// legend placements
const legendSpots: { panel: number; left: number; top: number; idx: number[] }[] = [
  { panel: 0, left: 922, top: 521, idx: [0, 1, 2, 3] },
  { panel: 1, left: 2127, top: 521, idx: [0, 1, 2, 3] },
  { panel: 2, left: 3436, top: 521, idx: [0, 1, 2, 3] },
  { panel: 3, left: 476, top: 1862, idx: [0, 1] },
  { panel: 3, left: 750, top: 1862, idx: [2, 3] },
  { panel: 4, left: 2205, top: 1704, idx: [0, 1, 2, 3] },
  { panel: 5, left: 3135, top: 1687, idx: [0, 1, 2, 3] },
];

const minus = (v: number) => String(v).replace("-", "\u2212");

export default function App() {
  const ref = useRef<HTMLDivElement | null>(null);

  useEffect(() => {
    if (!ref.current) return;
    const chart = echarts.init(ref.current, undefined, { renderer: "svg" });

    const grids: any[] = [];
    const xAxes: any[] = [];
    const yAxes: any[] = [];
    const series: any[] = [];
    const graphics: any[] = [];

    panels.forEach((p, i) => {
      const col = i % 3;
      const row = Math.floor(i / 3);
      grids.push({
        left: colLeft[col],
        top: rowTop[row],
        width: colWidth[col],
        height: rowHeight[row],
        show: true,
        borderColor: "#000",
        borderWidth: 4,
        backgroundColor: "transparent",
      });
      xAxes.push({
        type: "value",
        gridIndex: i,
        min: xTicks[0],
        max: xTicks[1],
        interval: xTicks[2],
        name: "角度 (°)",
        nameLocation: "middle",
        nameGap: 122,
        nameTextStyle: { fontSize: 68, fontFamily: FONT, color: "#000" },
        axisLine: { show: true, onZero: false, lineStyle: { color: "#000", width: 4 } },
        axisTick: { show: true, inside: true, length: 12, lineStyle: { color: "#000", width: 3 } },
        axisLabel: { fontSize: 63, fontFamily: FONT, color: "#000", margin: 30, formatter: minus },
        splitLine: { show: false },
      });
      yAxes.push({
        type: "value",
        gridIndex: i,
        min: yMins[i],
        max: 20,
        interval: 5,
        name: col === 0 ? "增益 (dB)" : "",
        nameLocation: "middle",
        nameRotate: 90,
        nameGap: 140,
        nameTextStyle: { fontSize: 66, fontFamily: FONT, color: "#000" },
        axisLine: { show: true, onZero: false, lineStyle: { color: "#000", width: 4 } },
        axisTick: { show: true, inside: true, length: 12, lineStyle: { color: "#000", width: 3 } },
        axisLabel: { fontSize: 63, fontFamily: FONT, color: "#000", margin: 26, formatter: minus },
        splitLine: { show: false },
      });
      p.lines.forEach((data, k) => {
        series.push({
          type: "line",
          name: p.names[k],
          xAxisIndex: i,
          yAxisIndex: i,
          data,
          symbol: "none",
          smooth: 0.3,
          clip: true,
          lineStyle: { color: COLORS[k], width: 4, type: DASHES[k] },
          itemStyle: { color: COLORS[k] },
        });
      });
      graphics.push({
        type: "text",
        x: colLeft[col] + colWidth[col] / 2,
        y: row === 0 ? 1097 : 2262,
        style: {
          text: captions[i],
          fontSize: 68,
          fontFamily: FONT,
          fill: "#000",
          align: "center",
          verticalAlign: "middle",
        },
      });
    });

    const legends = legendSpots.map((s) => ({
      data: s.idx.map((k) => panels[s.panel].names[k]),
      orient: "vertical",
      left: s.left,
      top: s.top,
      padding: 0,
      itemWidth: 83,
      itemHeight: 20,
      itemGap: 9,
      selectedMode: false,
      itemStyle: { opacity: 0 },
      textStyle: {
        fontSize: 64,
        lineHeight: 64,
        fontFamily: FONT,
        color: "#000",
        padding: [0, 0, 0, 22],
      },
    }));

    chart.setOption({
      animation: false,
      backgroundColor: "#f9f9f9",
      grid: grids,
      xAxis: xAxes,
      yAxis: yAxes,
      legend: legends,
      series,
      graphic: graphics,
    });

    return () => chart.dispose();
  }, []);

  return (
    <div
      ref={ref}
      style={{ position: "fixed", left: 0, top: 0, width: "3780px", height: "2303px", background: "#f9f9f9" }}
    />
  );
}
